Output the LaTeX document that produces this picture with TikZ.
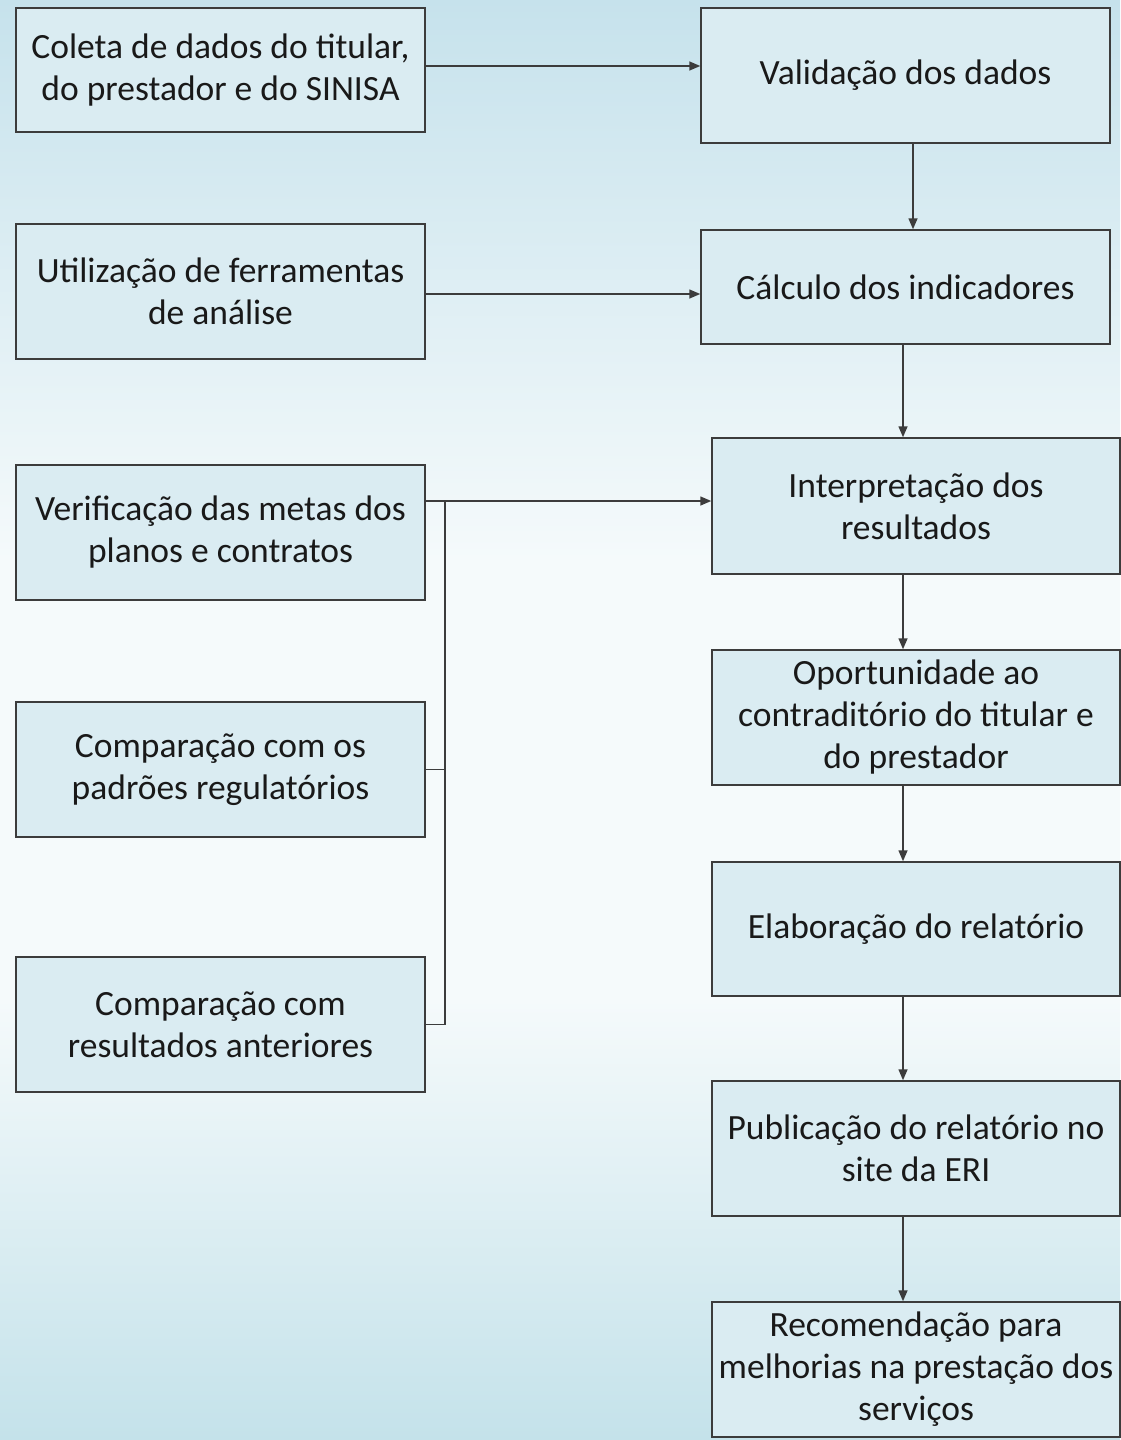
\documentclass[tikz,border=0pt]{standalone}
\usepackage{fontspec}
\setmainfont{Carlito}
\usetikzlibrary{arrows.meta}
\definecolor{boxfill}{HTML}{DAECF2}
\definecolor{boxline}{HTML}{3C3C3C}
\definecolor{bgtop}{HTML}{C6E2EC}
\definecolor{bgmid}{HTML}{F5FAFB}
\definecolor{bgbot}{HTML}{C4E2EA}
\tikzset{
  box/.style={draw=boxline, fill=boxfill, line width=1.5pt, inner sep=0pt,
    align=center, font=\fontsize{35.5}{42}\selectfont, text=black!90},
  arr/.style={draw=boxline, line width=1.5pt, -{Triangle[length=11pt,width=9pt]}},
  link/.style={draw=boxline, line width=1.5pt}
}
\newcommand{\mkbox}[6]{% name, x1, y1, x2, y2, text
  \node[box, minimum width={#4-#2}, minimum height={#5-#3}] (#1) at ({(#2+#4)/2},{(#3+#5)/2}) {#6};}
\begin{document}
\begin{tikzpicture}[x=1pt,y=-1pt]
\useasboundingbox (0,0) rectangle (1120,1440);
\shade[top color=bgtop, bottom color=bgmid] (0,0) rectangle (1120,560);
\fill[bgmid] (0,559) rectangle (1120,1000);
\shade[top color=bgmid, bottom color=bgbot] (0,999) rectangle (1120,1440);
% left column
\mkbox{A}{16}{8}{425}{132}{Coleta de dados do titular,\\do prestador e do SINISA}
\mkbox{B}{16}{224}{425}{359}{Utilização de ferramentas\\de análise}
\mkbox{C}{16}{465}{425}{600}{Verificação das metas dos\\planos e contratos}
\mkbox{D}{16}{702}{425}{837}{Comparação com os\\padrões regulatórios}
\mkbox{E}{16}{957}{425}{1092}{Comparação com\\resultados anteriores}
% right column
\mkbox{R1}{701}{8}{1110}{143}{Validação dos dados}
\mkbox{R2}{701}{230}{1110}{344}{Cálculo dos indicadores}
\mkbox{R3}{712}{438}{1120}{574}{Interpretação dos\\resultados}
\mkbox{R4}{712}{650}{1120}{785}{Oportunidade ao\\contraditório do titular e\\do prestador}
\mkbox{R5}{712}{862}{1120}{996}{Elaboração do relatório}
\mkbox{R6}{712}{1081}{1120}{1216}{Publicação do relatório no\\site da ERI}
\mkbox{R7}{712}{1302}{1120}{1437}{Recomendação para\\melhorias na prestação dos\\serviços}
% helper coordinates
\coordinate (ya) at (0,66);
\coordinate (yb) at (0,294);
\coordinate (yc) at (0,501);
\coordinate (xv) at (913,0);
\coordinate (xr) at (903,0);
\coordinate (xbr) at (445,0);
\coordinate (J) at (445,501);
% connectors
\draw[arr] (A.east |- ya) -- (R1.west |- ya);
\draw[arr] (B.east |- yb) -- (R2.west |- yb);
\draw[arr] (C.east |- yc) -- (R3.west |- yc);
\draw[link] (D.east) -- (D.east -| xbr) -- (J);
\draw[link] (E.east) -- (E.east -| xbr) -- (D.east -| xbr);
\draw[arr] (R1.south -| xv) -- (R2.north -| xv);
\draw[arr] (R2.south -| xr) -- (R3.north -| xr);
\draw[arr] (R3.south -| xr) -- (R4.north -| xr);
\draw[arr] (R4.south -| xr) -- (R5.north -| xr);
\draw[arr] (R5.south -| xr) -- (R6.north -| xr);
\draw[arr] (R6.south -| xr) -- (R7.north -| xr);
\end{tikzpicture}
\end{document}
